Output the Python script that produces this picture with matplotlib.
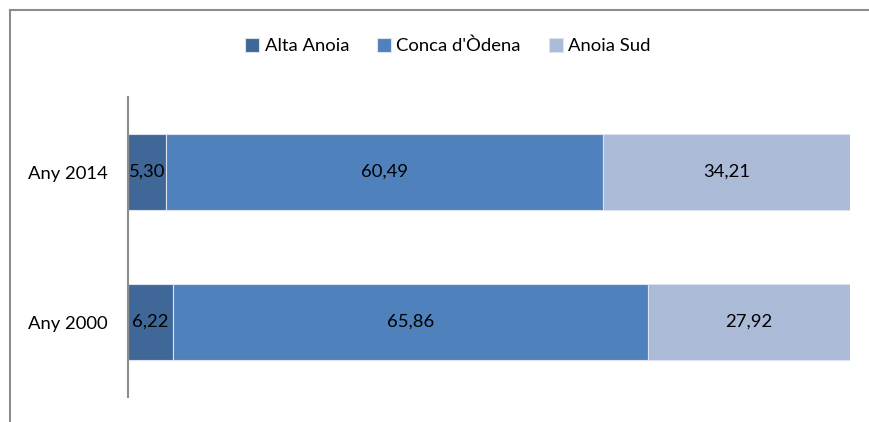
import numpy as np
import matplotlib.pyplot as plt
from matplotlib.lines import Line2D

years = ["Any 2000", "Any 2014"]
alta_anoia = [6.22, 5.30]
conca_odena = [65.86, 60.49]
anoia_sud = [27.92, 34.21]

series = [("Alta Anoia", alta_anoia, "#3F6899"),
          ("Conca d'Òdena", conca_odena, "#4F81BD"),
          ("Anoia Sud", anoia_sud, "#AABAD7")]

plt.rcParams['font.family'] = ['Lato', 'DejaVu Sans']

fig = plt.figure(figsize=(8.69, 4.22), dpi=100)
ax = fig.add_axes([128/869, 25/422, 722/869, 300/422])

y = np.arange(len(years))
left = np.zeros(len(years))
for name, vals, col in series:
    vals = np.array(vals)
    ax.barh(y, vals, left=left, height=0.507, color=col, label=name,
            edgecolor="#DCE3EE", linewidth=0.8)
    for yi, l, v in zip(y, left, vals):
        ax.text(l + v / 2, yi, f"{v:.2f}".replace(".", ","), ha="center",
                va="center", fontsize=13.3, color="black")
    left += vals

ax.set_xlim(0, 100)
ax.set_ylim(-0.5, 1.5)
ax.set_yticks(y)
ax.set_yticklabels(years, fontsize=13.3)
ax.tick_params(axis="y", length=0, pad=14.5)
ax.set_xticks([])
for s in ["top", "right", "bottom"]:
    ax.spines[s].set_visible(False)
ax.spines["left"].set_color("#8C8C8C")
ax.spines["left"].set_linewidth(1.5)

fig.legend(loc="center", bbox_to_anchor=(448/869, 1 - 46/422), ncol=3,
           frameon=False, fontsize=13.3, handlelength=0.75, handleheight=0.75,
           handletextpad=0.3, columnspacing=1.5)

# outer chart frame (partially cropped)
fig.add_artist(Line2D([10/869, 10/869], [0, 1 - 10/422], color="#8C8C8C", lw=1.5))
fig.add_artist(Line2D([10/869, 1], [1 - 10/422, 1 - 10/422], color="#8C8C8C", lw=1.5))

plt.savefig("out.png")
